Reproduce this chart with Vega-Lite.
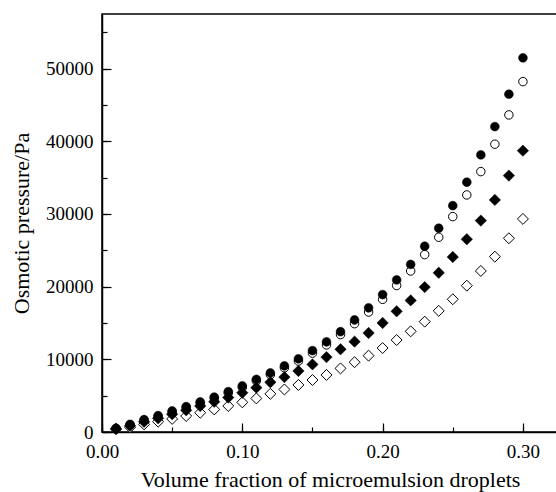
{
  "$schema": "https://vega.github.io/schema/vega-lite/v6.json",
  "width": 456,
  "height": 418,
  "autosize": {"type": "none"},
  "padding": {"left": 102, "top": 14, "right": 0, "bottom": 60},
  "background": "white",
  "config": {
    "font": "Liberation Serif",
    "view": {"stroke": "black", "strokeWidth": 1.5},
    "axis": {
      "domainColor": "black", "domainWidth": 1.5,
      "tickColor": "black", "tickWidth": 1.2,
      "labelFont": "Liberation Serif", "labelFontSize": 19, "labelColor": "black",
      "titleFont": "Liberation Serif", "titleFontSize": 22, "titleFontWeight": "normal", "titleColor": "black",
      "grid": false, "labelOverlap": false, "labelFlush": false
    }
  },
  "data": {"values": [
    {"phi":0.01,"s":"D","p":400},{"phi":0.02,"s":"D","p":650},{"phi":0.03,"s":"D","p":1050},{"phi":0.04,"s":"D","p":1420},{"phi":0.05,"s":"D","p":1800},
    {"phi":0.06,"s":"D","p":2200},{"phi":0.07,"s":"D","p":2650},{"phi":0.08,"s":"D","p":3100},{"phi":0.09,"s":"D","p":3580},{"phi":0.10,"s":"D","p":4080},
    {"phi":0.11,"s":"D","p":4620},{"phi":0.12,"s":"D","p":5250},{"phi":0.13,"s":"D","p":5850},{"phi":0.14,"s":"D","p":6470},{"phi":0.15,"s":"D","p":7150},
    {"phi":0.16,"s":"D","p":7850},{"phi":0.17,"s":"D","p":8750},{"phi":0.18,"s":"D","p":9600},{"phi":0.19,"s":"D","p":10500},{"phi":0.20,"s":"D","p":11550},
    {"phi":0.21,"s":"D","p":12650},{"phi":0.22,"s":"D","p":13850},{"phi":0.23,"s":"D","p":15180},{"phi":0.24,"s":"D","p":16670},{"phi":0.25,"s":"D","p":18260},
    {"phi":0.26,"s":"D","p":20130},{"phi":0.27,"s":"D","p":22150},{"phi":0.28,"s":"D","p":24120},{"phi":0.29,"s":"D","p":26650},{"phi":0.30,"s":"D","p":29310},
    {"phi":0.01,"s":"B","p":480},{"phi":0.02,"s":"B","p":1000},{"phi":0.03,"s":"B","p":1620},{"phi":0.04,"s":"B","p":2150},{"phi":0.05,"s":"B","p":2780},
    {"phi":0.06,"s":"B","p":3380},{"phi":0.07,"s":"B","p":4000},{"phi":0.08,"s":"B","p":4660},{"phi":0.09,"s":"B","p":5380},{"phi":0.10,"s":"B","p":6150},
    {"phi":0.11,"s":"B","p":7030},{"phi":0.12,"s":"B","p":7880},{"phi":0.13,"s":"B","p":8830},{"phi":0.14,"s":"B","p":9760},{"phi":0.15,"s":"B","p":10850},
    {"phi":0.16,"s":"B","p":11980},{"phi":0.17,"s":"B","p":13400},{"phi":0.18,"s":"B","p":14900},{"phi":0.19,"s":"B","p":16500},{"phi":0.20,"s":"B","p":18250},
    {"phi":0.21,"s":"B","p":20150},{"phi":0.22,"s":"B","p":22150},{"phi":0.23,"s":"B","p":24400},{"phi":0.24,"s":"B","p":26790},{"phi":0.25,"s":"B","p":29630},
    {"phi":0.26,"s":"B","p":32610},{"phi":0.27,"s":"B","p":35820},{"phi":0.28,"s":"B","p":39590},{"phi":0.29,"s":"B","p":43620},{"phi":0.30,"s":"B","p":48200},
    {"phi":0.01,"s":"C","p":450},{"phi":0.02,"s":"C","p":850},{"phi":0.03,"s":"C","p":1400},{"phi":0.04,"s":"C","p":1880},{"phi":0.05,"s":"C","p":2450},
    {"phi":0.06,"s":"C","p":3000},{"phi":0.07,"s":"C","p":3580},{"phi":0.08,"s":"C","p":4170},{"phi":0.09,"s":"C","p":4750},{"phi":0.10,"s":"C","p":5400},
    {"phi":0.11,"s":"C","p":6100},{"phi":0.12,"s":"C","p":6850},{"phi":0.13,"s":"C","p":7550},{"phi":0.14,"s":"C","p":8400},{"phi":0.15,"s":"C","p":9300},
    {"phi":0.16,"s":"C","p":10300},{"phi":0.17,"s":"C","p":11380},{"phi":0.18,"s":"C","p":12430},{"phi":0.19,"s":"C","p":13620},{"phi":0.20,"s":"C","p":15000},
    {"phi":0.21,"s":"C","p":16600},{"phi":0.22,"s":"C","p":18100},{"phi":0.23,"s":"C","p":19930},{"phi":0.24,"s":"C","p":21900},{"phi":0.25,"s":"C","p":24080},
    {"phi":0.26,"s":"C","p":26520},{"phi":0.27,"s":"C","p":29080},{"phi":0.28,"s":"C","p":31930},{"phi":0.29,"s":"C","p":35270},{"phi":0.30,"s":"C","p":38700},
    {"phi":0.01,"s":"A","p":500},{"phi":0.02,"s":"A","p":1050},{"phi":0.03,"s":"A","p":1700},{"phi":0.04,"s":"A","p":2250},{"phi":0.05,"s":"A","p":2890},
    {"phi":0.06,"s":"A","p":3490},{"phi":0.07,"s":"A","p":4130},{"phi":0.08,"s":"A","p":4800},{"phi":0.09,"s":"A","p":5550},{"phi":0.10,"s":"A","p":6330},
    {"phi":0.11,"s":"A","p":7250},{"phi":0.12,"s":"A","p":8120},{"phi":0.13,"s":"A","p":9100},{"phi":0.14,"s":"A","p":10070},{"phi":0.15,"s":"A","p":11200},
    {"phi":0.16,"s":"A","p":12400},{"phi":0.17,"s":"A","p":13800},{"phi":0.18,"s":"A","p":15410},{"phi":0.19,"s":"A","p":17080},{"phi":0.20,"s":"A","p":18900},
    {"phi":0.21,"s":"A","p":20920},{"phi":0.22,"s":"A","p":23050},{"phi":0.23,"s":"A","p":25550},{"phi":0.24,"s":"A","p":28030},{"phi":0.25,"s":"A","p":31140},
    {"phi":0.26,"s":"A","p":34360},{"phi":0.27,"s":"A","p":38120},{"phi":0.28,"s":"A","p":42010},{"phi":0.29,"s":"A","p":46470},{"phi":0.30,"s":"A","p":51470}
  ]},
  "layer": [
    {
      "mark": {"type": "point", "opacity": 0},
      "encoding": {
        "x": {
          "field": "phi", "type": "quantitative",
          "scale": {"domain": [0, 0.325], "nice": false, "zero": false},
          "axis": {
            "orient": "bottom",
            "values": [0, 0.05, 0.1, 0.15, 0.2, 0.25, 0.3],
            "tickSize": -5, "labelPadding": 15, "titlePadding": 8,
            "labelExpr": "round(datum.value*100) % 10 == 0 ? format(datum.value, '.2f') : ''",
            "title": "Volume fraction of microemulsion droplets"
          }
        },
        "y": {
          "field": "p", "type": "quantitative",
          "scale": {"domain": [0, 57500], "nice": false, "zero": true},
          "axis": {
            "orient": "left",
            "values": [0, 5000, 10000, 15000, 20000, 25000, 30000, 35000, 40000, 45000, 50000, 55000],
            "tickSize": -5, "labelPadding": 14, "titlePadding": 12,
            "labelExpr": "datum.value % 10000 == 0 ? format(datum.value, 'd') : ''",
            "title": "Osmotic pressure/Pa"
          }
        }
      }
    },
    {
      "mark": {"type": "point", "opacity": 0},
      "encoding": {
        "x": {
          "field": "phi", "type": "quantitative",
          "axis": {"orient": "bottom", "values": [0, 0.1, 0.2, 0.3], "tickSize": -9, "labels": false, "domain": false, "title": null}
        },
        "y": {
          "field": "p", "type": "quantitative",
          "axis": {"orient": "left", "values": [0, 10000, 20000, 30000, 40000, 50000], "tickSize": -9, "labels": false, "domain": false, "title": null}
        }
      }
    },
    {
      "transform": [{"filter": "datum.s == 'D'"}],
      "mark": {"type": "point", "shape": "diamond", "size": 120, "filled": false, "fill": "white", "fillOpacity": 1, "stroke": "black", "strokeWidth": 1, "opacity": 1},
      "encoding": {
        "x": {"field": "phi", "type": "quantitative", "axis": null},
        "y": {"field": "p", "type": "quantitative", "axis": null}
      }
    },
    {
      "transform": [{"filter": "datum.s == 'B'"}],
      "mark": {"type": "point", "shape": "circle", "size": 72, "filled": false, "fill": "white", "fillOpacity": 1, "stroke": "black", "strokeWidth": 1, "opacity": 1},
      "encoding": {
        "x": {"field": "phi", "type": "quantitative", "axis": null},
        "y": {"field": "p", "type": "quantitative", "axis": null}
      }
    },
    {
      "transform": [{"filter": "datum.s == 'C'"}],
      "mark": {"type": "point", "shape": "diamond", "size": 130, "filled": true, "fill": "black", "stroke": "black", "strokeWidth": 0.5, "opacity": 1},
      "encoding": {
        "x": {"field": "phi", "type": "quantitative", "axis": null},
        "y": {"field": "p", "type": "quantitative", "axis": null}
      }
    },
    {
      "transform": [{"filter": "datum.s == 'A'"}],
      "mark": {"type": "point", "shape": "circle", "size": 78, "filled": true, "fill": "black", "stroke": "black", "strokeWidth": 0.5, "opacity": 1},
      "encoding": {
        "x": {"field": "phi", "type": "quantitative", "axis": null},
        "y": {"field": "p", "type": "quantitative", "axis": null}
      }
    }
  ],
  "resolve": {"axis": {"x": "independent", "y": "independent"}}
}
